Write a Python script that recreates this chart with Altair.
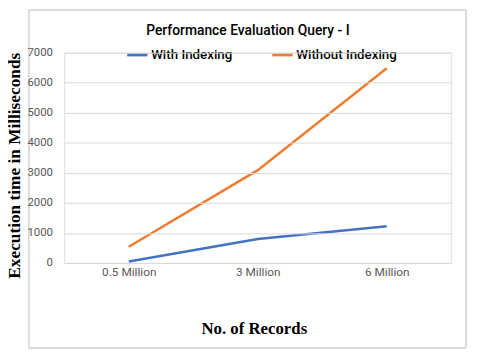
import altair as alt
import pandas as pd

records = ["0.5 Million", "3 Million", "6 Million"]
with_indexing = [50, 800, 1225]
without_indexing = [540, 3090, 6480]
series_names = ["With Indexing", "Without Indexing"]
y_ticks = [0, 1000, 2000, 3000, 4000, 5000, 6000, 7000]
chart_title = ["Performance Evaluation Query - I"]

rows = []
for r, a, b in zip(records, with_indexing, without_indexing):
    rows.append({"records": r, "series": series_names[0], "value": a})
    rows.append({"records": r, "series": series_names[1], "value": b})
df = pd.DataFrame(rows)

SANS = "Roboto, sans-serif"
SERIF = "Liberation Serif, Times New Roman, serif"

lines = alt.Chart(df).mark_line(strokeWidth=2.5).encode(
    x=alt.X("records:N", sort=records,
            scale=alt.Scale(type="point", padding=0.5),
            axis=alt.Axis(title="No. of Records", labelAngle=0, domain=False, ticks=False,
                          grid=False, labelFont=SANS, labelFontSize=12, labelColor="#595959",
                          labelPadding=4, titleFont=SERIF, titleFontSize=17,
                          titleFontWeight="bold", titleColor="#000000", titlePadding=43,
                          titleX=192, titleAnchor="middle", zindex=2)),
    y=alt.Y("value:Q", scale=alt.Scale(domain=[0, 7000]),
            axis=alt.Axis(title="Execution time in Milliseconds", values=y_ticks, format="d",
                          domain=False, ticks=False, gridColor="#d9d9d9",
                          labelFont=SANS, labelFontSize=11.5, labelColor="#595959",
                          labelPadding=12, titleFont=SERIF, titleFontSize=17.5,
                          titleFontWeight="bold", titleColor="#000000",
                          titleX=-50, titleY=114, titleAngle=-90,
                          titleAlign="center", titleBaseline="middle", zindex=2)),
    color=alt.Color("series:N", sort=series_names,
                    scale=alt.Scale(domain=series_names, range=["#4472C4", "#ED7D31"]),
                    legend=alt.Legend(title=None, orient="none", direction="horizontal",
                                      legendX=62, legendY=-10, symbolType="stroke",
                                      symbolSize=420, symbolStrokeWidth=3,
                                      labelFont=SANS, labelFontSize=13.5, labelFontWeight=500,
                                      labelColor="#000000", columnPadding=33, labelOffset=2)),
)

border = alt.Chart(df).mark_rect(fill="white", fillOpacity=0, stroke="#d9d9d9",
                                 strokeWidth=1).encode(
    x=alt.value(-36), x2=alt.value(407), y=alt.value(-43), y2=alt.value(299)
)

title_text = alt.Chart(pd.DataFrame({"t": chart_title})).mark_text(
    font=SANS, fontSize=14, fontWeight=500, color="#000000", align="center", baseline="middle"
).encode(text="t:N", x=alt.value(186), y=alt.value(-22))

chart = alt.layer(border, lines, title_text).properties(
    width=392, height=213,
    padding={"left": 57, "top": 43, "right": 20, "bottom": 95},
    autosize=alt.AutoSizeParams(type="none"),
).configure_view(stroke=None).configure(background="white")

chart.save("out.html", embed_options={"renderer": "svg", "actions": False})
